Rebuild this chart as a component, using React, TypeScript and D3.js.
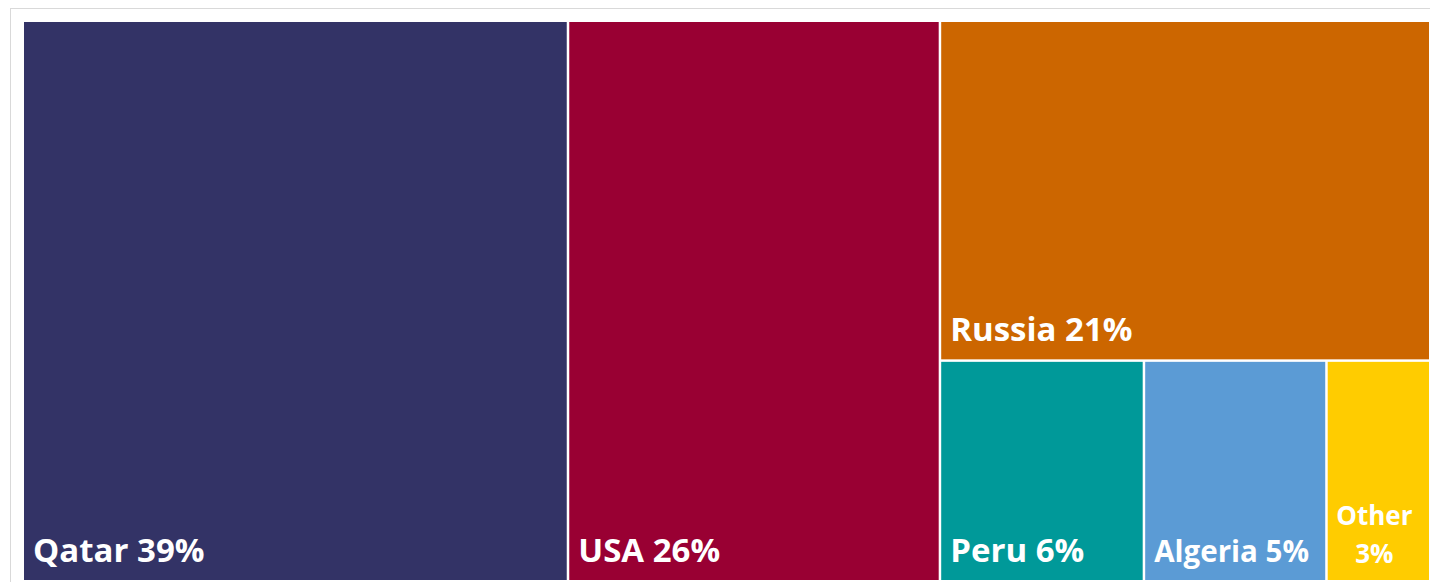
import React from "react";
import * as d3 from "d3";

const categories = ["Qatar", "USA", "Russia", "Peru", "Algeria", "Other"];
const shares = [38.7, 26.4, 21.1, 5.7, 5.1, 2.9];
const pctLabels = ["39%", "26%", "21%", "6%", "5%", "3%"];
const colors = ["#333366", "#990033", "#CC6600", "#009999", "#5B9BD5", "#FFCC00"];

const W = 1430;
const H = 582;
const M = { left: 24, top: 22, right: 1429, bottom: 580 };

type Leaf = { name: string; value: number; label: string; color: string };

export default function App() {
  const data: Leaf[] = categories.map((c, i) => ({
    name: c,
    value: shares[i],
    label: pctLabels[i],
    color: colors[i],
  }));
  const root = d3
    .hierarchy<any>({ children: data })
    .sum((d: any) => d.value || 0);
  d3
    .treemap<any>()
    .tile(d3.treemapSquarify.ratio(1))
    .size([M.right - M.left, M.bottom - M.top])
    .paddingInner(2.5)
    .round(false)(root);

  const leaves = root.leaves() as d3.HierarchyRectangularNode<any>[];
  const font = "'Open Sans', 'Segoe UI', sans-serif";

  return (
    <svg
      width={W}
      height={H}
      style={{ display: "block", position: "fixed", left: 0, top: 0 }}
    >
      <rect x={0} y={0} width={W} height={H} fill="#fff" />
      <rect x={10.5} y={8.5} width={W + 10} height={H + 10} fill="#fff" stroke="#d9d9d9" strokeWidth={1} />
      <g transform={`translate(${M.left},${M.top})`}>
        {leaves.map((l) => {
          const d = l.data as Leaf;
          const w = l.x1 - l.x0;
          const full = `${d.name} ${d.label}`;
          let fs = 33;
          if (w < 190) fs = 29.5;
          const wrap = w < 130;
          if (wrap) fs = 26;
          const cx = (l.x0 + l.x1) / 2 - 4;
          return (
            <g key={d.name}>
              <rect x={l.x0} y={l.y0} width={w} height={l.y1 - l.y0} fill={d.color} />
              {wrap ? (
                <text
                  x={cx}
                  y={l.y1 - 55}
                  fill="#fff"
                  fontFamily={font}
                  fontWeight={700}
                  fontSize={fs}
                  textAnchor="middle"
                >
                  <tspan x={cx}>{d.name}</tspan>
                  <tspan x={cx} dy={38}>{d.label}</tspan>
                </text>
              ) : (
                <text
                  x={l.x0 + 9}
                  y={l.y1 - 18}
                  fill="#fff"
                  fontFamily={font}
                  fontWeight={700}
                  fontSize={fs}
                >
                  {full}
                </text>
              )}
            </g>
          );
        })}
      </g>
    </svg>
  );
}
